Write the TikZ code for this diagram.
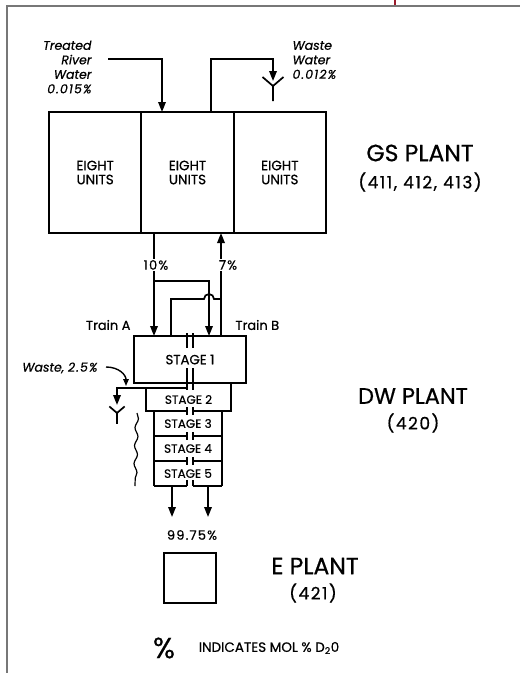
\documentclass[tikz,border=0pt]{standalone}
\usepackage{fontspec}
\setmainfont{Poppins}[FakeBold=0.6]
\usetikzlibrary{arrows.meta,decorations.pathmorphing}
\definecolor{framegray}{HTML}{777777}
\definecolor{tickred}{HTML}{9A1A2A}
\tikzset{
  drain/.pic={\draw[line width=1.7pt] (-10.5,-9) -- (0,0) -- (10.5,-9) (0,0) -- (0,15);},
}
\newcommand{\fs}[1]{\fontsize{#1}{#1}\selectfont}
\newcommand{\numsp}{\addfontfeatures{LetterSpace=9}}
\begin{document}
\begin{tikzpicture}[x=1pt,y=-1pt,
  ln/.style={line width=1.7pt},
  arr/.style={line width=1.7pt,-{Triangle[length=10pt,width=7.5pt]}},
  cell/.style={draw,line width=1.7pt,minimum width=92.33pt,minimum height=121pt,inner sep=0pt,outer sep=0pt,align=center,font=\fontsize{13.5}{14}\selectfont},
  stgbox/.style={inner sep=0pt,outer sep=0pt,font=\fs{12}},
  big/.style={font=\fs{23.5}},
  sub/.style={font=\fs{17}\numsp},
  lbl/.style={font=\fs{13}},
  itl/.style={font=\fontsize{12.5}{14.5}\selectfont\itshape},
]
\useasboundingbox (0,0) rectangle (520,673);
% frame
\path[fill=framegray] (6,5) rectangle (520,7.3);
\path[fill=framegray] (5.9,5) rectangle (8.1,673);
\path[fill=tickred] (394,0) rectangle (396.2,5);

% GS plant
\node[cell] (gs1) at (95.17,172.5) {EIGHT\\UNITS};
\node[cell] (gs2) at (187.5,172.5) {EIGHT\\UNITS};
\node[cell] (gs3) at (279.83,172.5) {EIGHT\\UNITS};
\node[big] (gsl) at (420,153) {GS PLANT};
\node[sub] (gsn) at (420,182) {(411, 412, 413)};

% treated river water
\node[itl,align=right,anchor=east] (trwl) at (95,67) {Treated\\River\\Water\\{\numsp 0.015\%}};
\coordinate (trw) at (108,59);
\draw[arr] (trw) -| ([xshift=-25.5pt]gs2.north);
% waste water
\node[itl,align=left,anchor=west] (wwl) at (289,60) {Waste\\Water\\{\numsp 0.012\%}};
\coordinate (wwt) at (273,59);
\coordinate (wwe) at (273,81);
\draw[arr] ([xshift=23.5pt]gs2.north) |- (wwt) -- (wwe);
\pic at (273,86) {drain};

% stage boxes
\node[draw,line width=1.7pt,minimum width=112pt,minimum height=47pt,inner sep=0pt,outer sep=0pt,font=\fs{13.3}] (s1) at (190,359.5) {STAGE 1};
\node[stgbox,minimum width=85pt,minimum height=23pt] (s2) at (188.5,399.5) {STAGE 2};
\node[stgbox,minimum width=68pt,minimum height=25pt] (s3) at (188,423.5) {STAGE 3};
\node[stgbox,minimum width=68pt,minimum height=25pt] (s4) at (188,448.5) {STAGE 4};
\node[stgbox,minimum width=68pt,minimum height=25pt] (s5) at (188,473.5) {STAGE 5};
\coordinate (dA) at ([xshift=-3pt]s1.south);
\coordinate (dB) at ([xshift=3pt]s1.south);
\node[font=\fs{22.5}] (dwl) at (413,396) {DW PLANT};
\node[sub] (dwn) at (413,423) {(420)};

% double lines in stage 1
\draw[ln] (s1.north -| dA) ++(0,-3) -- ++(0,15);
\draw[ln] (s1.north -| dB) ++(0,-3) -- ++(0,15);
\draw[ln] (s1.south -| dA) ++(0,-15) -- ++(0,22);
\draw[ln] (s1.south -| dB) ++(0,-15) -- ++(0,22);

% stage 2 outline
\draw[ln] (s2.north west -| dA) -- (s2.north west) -- (s2.south west) -- (s2.south -| dA);
\draw[ln] (s2.south -| dB) -- (s2.south east) -- (s2.south east |- s1.south);
% stage 3-5 outline
\draw[ln] (s3.north west) -- (s5.south west);
\draw[ln] (s3.north east) -- (s5.south east);
\foreach \b in {s4.north,s5.north,s5.south} {
  \draw[ln] (\b -| s3.west) -- (\b -| dA);
  \draw[ln] (\b -| dB) -- (\b -| s3.east);
}
\foreach \b in {s3.north,s4.north,s5.north} {
  \draw[ln] (\b -| dA) ++(0,-4) -- ++(0,8);
  \draw[ln] (\b -| dB) ++(0,-4) -- ++(0,8);
}
\draw[ln] (s5.south -| dA) -- ++(0,-6);
\draw[ln] (s5.south -| dB) -- ++(0,-6);

% flows between GS and DW
\coordinate (j10) at ([xshift=-33.5pt]gs2.south |- 0,281);
\draw[arr] ([xshift=-33.5pt]gs2.south) -- ([xshift=-33.5pt]gs2.south |- s1.north);
\draw[arr] (j10) -| ([xshift=19pt]s1.north);
\draw[arr] ([xshift=31pt]s1.north) -- ([xshift=31pt]s1.north |- gs2.south);
\draw[ln] ([xshift=-19pt]s1.north) |- (204,299) arc (180:360:5) -- (221,299);
\node[lbl,fill=white,inner sep=1pt] (p10) at (156,265) {\numsp 10\%};
\node[lbl,fill=white,inner sep=1pt] (p7) at (228,265) {\numsp 7\%};
\node[lbl,anchor=east] (ta) at (134,325) {Train A};
\node[lbl,anchor=west] (tb) at (232,325) {Train B};

% waste 2.5%
\coordinate (wst) at (117,405);
\draw[arr] (s2.north west) -| (wst);
\pic[scale=0.73] at (117,413) {drain};
\node[itl,anchor=east] (wlab) at (101,368) {Waste, {\numsp 2.5\%}};
\coordinate (wce) at (126,386);
\draw[line width=1.4pt,-{Triangle[length=7pt,width=5.5pt]}] (106,367) .. controls (119,367) and (126,375) .. (wce);
\draw[line width=1.2pt,decorate,decoration={snake,segment length=18pt,amplitude=1.6pt}] (137,413) -- (135,486);

% outputs
\node[lbl] (p99) at (192,535) {\numsp 99.75\%};
\coordinate (o1) at ([xshift=-16pt]s5.south |- 0,517);
\coordinate (o2) at ([xshift=20pt]s5.south |- 0,517);
\draw[arr] ([xshift=-16pt]s5.south) -- (o1);
\draw[arr] ([xshift=20pt]s5.south) -- (o2);

% E plant
\node[draw,line width=1.7pt,minimum width=52pt,minimum height=50pt,inner sep=0pt] (ep) at (190,578) {};
\node[big] (epl) at (315,566) {E PLANT};
\node[sub] (epn) at (313,593) {(421)};

% legend
\node[font=\fs{29}] (pc) at (164,648) {\%};
\node[font=\fs{13.5}] (leg) at (269,648) {INDICATES MOL \% D\textsubscript{2}0};
\end{tikzpicture}
\end{document}
